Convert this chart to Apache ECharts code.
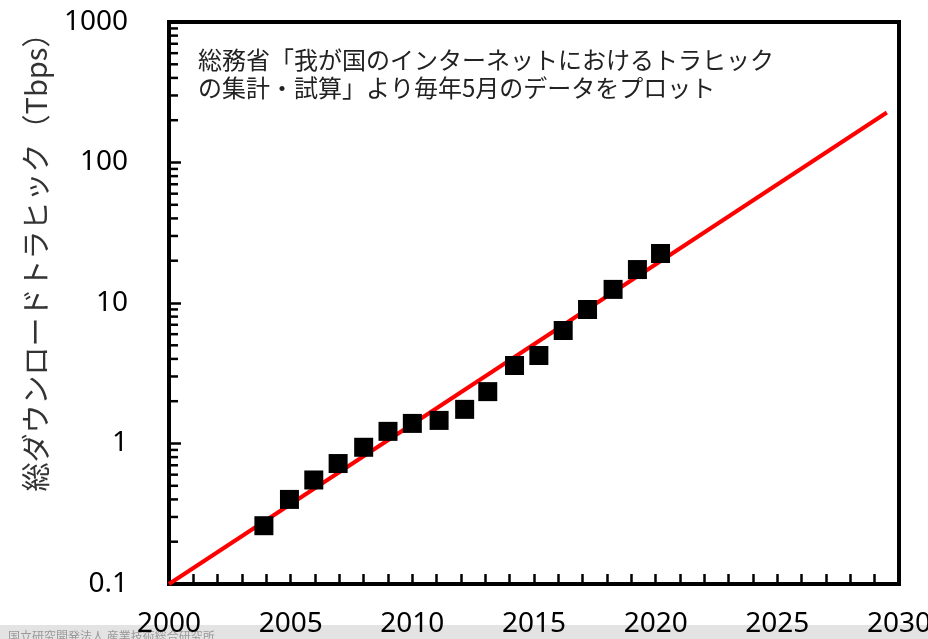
<!DOCTYPE html>
<html>
<head>
<meta charset="utf-8">
<script src="https://cdn.jsdelivr.net/npm/echarts@6/dist/echarts.min.js"></script>
<style>
html, body { margin: 0; padding: 0; background: #fff; }
#main { width: 928px; height: 639px; }
</style>
</head>
<body>
<div id="main"></div>
<script>
// 総ダウンロードトラヒック（毎年5月）
var years = [2003.9, 2004.95, 2005.95, 2006.95, 2008, 2009, 2010, 2011.1, 2012.15, 2013.1, 2014.2, 2015.2, 2016.2, 2017.2, 2018.25, 2019.25, 2020.2];
var traffic = [0.26, 0.40, 0.55, 0.72, 0.94, 1.22, 1.39, 1.46, 1.75, 2.34, 3.59, 4.23, 6.37, 8.99, 12.5, 17.3, 22.5];

// 近似直線 (両端)
var fitX = [2000, 2029.5];
var fitY = [0.1, 227];

// y軸の補助目盛り
var yMinorTicks = [0.2, 0.3, 0.4, 0.5, 0.6, 0.7, 0.8, 0.9,
	2, 3, 4, 5, 6, 7, 8, 9,
	20, 30, 40, 50, 60, 70, 80, 90,
	200, 300, 400, 500, 600, 700, 800, 900];

var chart = echarts.init(document.getElementById('main'));

var pts = years.map(function (x, i) { return [x, traffic[i]]; });
var fitPts = fitX.map(function (x, i) { return [x, fitY[i]]; });

var option = {
	animation: false,
	grid: {
		left: 169,
		right: 29,
		top: 22,
		bottom: 55,
		containLabel: false,
		outerBoundsMode: 'none',
		show: true,
		borderColor: '#000',
		borderWidth: 4
	},
	xAxis: {
		type: 'value',
		min: 2000,
		max: 2030,
		interval: 5,
		axisLine: { lineStyle: { color: '#000', width: 4 } },
		axisTick: { inside: true, length: 10, lineStyle: { color: '#000', width: 2.5 } },
		minorTick: { show: true, splitNumber: 5, length: 10, lineStyle: { color: '#000', width: 2.5 } },
		splitLine: { show: false },
		axisLabel: {
			margin: 26,
			color: '#000',
			fontSize: 28,
			fontFamily: 'Noto Sans',
			formatter: function (v) { return String(v); }
		}
	},
	yAxis: {
		type: 'log',
		logBase: 10,
		min: 0.1,
		max: 1000,
		axisLine: { lineStyle: { color: '#000', width: 4 } },
		axisTick: { inside: true, length: 12, lineStyle: { color: '#000', width: 2.5 } },
		splitLine: { show: false },
		axisLabel: {
			margin: 41,
			color: '#000',
			fontSize: 28,
			fontFamily: 'Noto Sans',
			formatter: function (v) { return String(v); }
		}
	},
	graphic: [
		{
			type: 'rect',
			z: -1,
			shape: { x: 0, y: 625, width: 928, height: 14 },
			style: { fill: '#e3e3e3' }
		},
		{
			type: 'text',
			left: 8,
			top: 630,
			style: {
				text: '国立研究開発法人 産業技術総合研究所',
				fontSize: 12,
				fill: '#999',
				fontFamily: 'Noto Sans CJK JP'
			}
		},
		{
			type: 'text',
			x: 36,
			y: 255,
			rotation: Math.PI / 2,
			style: {
				text: '総ダウンロードトラヒック（Tbps）',
				fontSize: 29,
				fill: '#333',
				fontFamily: 'Noto Sans CJK JP',
				align: 'center',
				verticalAlign: 'middle'
			}
		},
		{
			type: 'text',
			left: 198,
			top: 46,
			style: {
				text: '総務省「我が国のインターネットにおけるトラヒック\nの集計・試算」より毎年5月のデータをプロット',
				fontSize: 24,
				lineHeight: 28,
				fill: '#222',
				fontFamily: 'Noto Sans CJK JP'
			}
		}
	],
	series: [
		{
			name: '近似',
			type: 'line',
			data: fitPts,
			symbol: 'none',
			lineStyle: { color: '#ff0000', width: 4 },
			z: 2
		},
		{
			name: 'traffic',
			type: 'scatter',
			data: pts,
			symbol: 'rect',
			symbolSize: 19,
			itemStyle: { color: '#000', opacity: 1 },
			z: 3
		},
		{
			name: 'minor',
			type: 'custom',
			silent: true,
			data: yMinorTicks,
			renderItem: function (params, api) {
				var p = api.coord([2000, api.value(0)]);
				return {
					type: 'line',
					shape: { x1: p[0], y1: p[1], x2: p[0] + 9, y2: p[1] },
					style: { stroke: '#000', lineWidth: 2.5 }
				};
			},
			encode: { y: 0 },
			z: 4
		}
	]
};
chart.setOption(option);
</script>
</body>
</html>
